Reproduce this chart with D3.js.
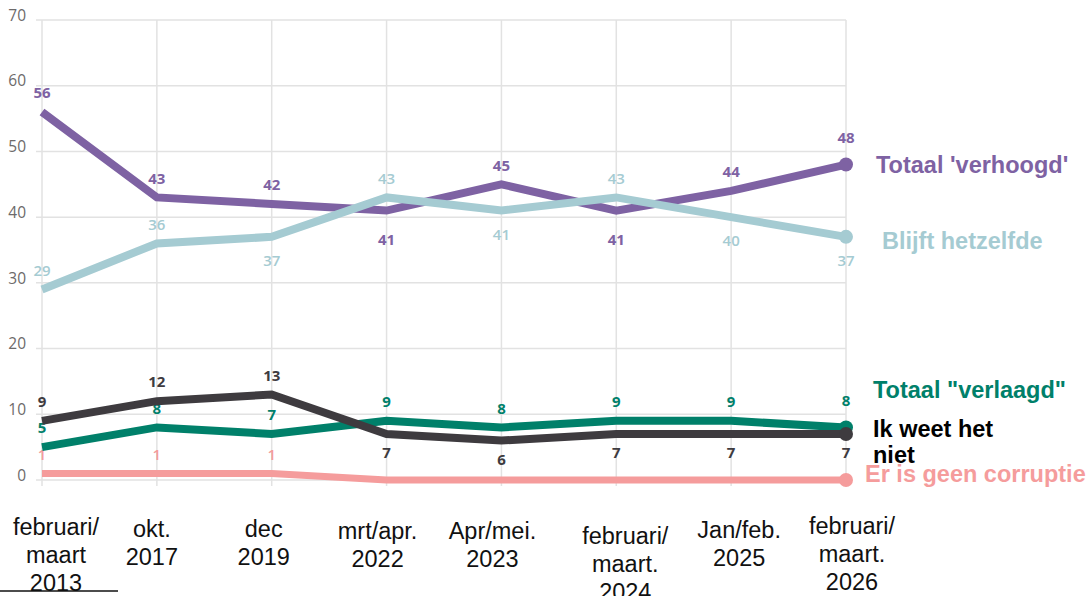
<!DOCTYPE html>
<html>
<head>
<meta charset="utf-8">
<style>
  body { margin: 0; background: #fff; }
  svg { display: block; }
  .ytick text { font-family: "Open Sans", sans-serif; font-size: 15.5px; fill: #6d6a6a; }
  .vlabel { font-family: "Open Sans", sans-serif; font-size: 15px; font-weight: 700; }
  .xlab { font-family: "Liberation Sans", Arial, sans-serif; font-size: 23.5px; fill: #111; }
  .legend { font-family: "Liberation Sans", Arial, sans-serif; font-weight: 700; font-size: 23.5px; }
</style>
</head>
<body>
<div id="chart"></div>
<script src="https://d3js.org/d3.v7.min.js"></script>
<script>
// survey moments
var periods = ["feb/mrt 2013", "okt 2017", "dec 2019", "mrt/apr 2022", "apr/mei 2023", "feb/mrt 2024", "jan/feb 2025", "feb/mrt 2026"];

// x axis texts (one entry per period, split in lines)
var periodLines = [
  ["februari/", "maart", "2013"],
  ["okt.", "2017"],
  ["dec", "2019"],
  ["mrt/apr.", "2022"],
  ["Apr/mei.", "2023"],
  ["februari/", "maart.", "2024"],
  ["Jan/feb.", "2025"],
  ["februari/", "maart.", "2026"]
];

var yTicks = [0, 10, 20, 30, 40, 50, 60, 70];

// series values (percent)
var verhoogd      = [56, 43, 42, 41, 45, 41, 44, 48];
var hetzelfde     = [29, 36, 37, 43, 41, 43, 40, 37];
var verlaagd      = [5, 8, 7, 9, 8, 9, 9, 8];
var weetNiet      = [9, 12, 13, 7, 6, 7, 7, 7];
var geenCorruptie = [1, 1, 1, 0, 0, 0, 0, 0];

// where the value label sits: a = above, b = below, "" = no label
var verhoogdPos  = ["a", "a", "a", "b", "a", "b", "a", "a"];
var hetzelfdePos = ["a", "a", "b", "a", "b", "a", "b", "b"];
var verlaagdPos  = ["a", "a", "a", "a", "a", "a", "a", "a"];
var weetNietPos  = ["a", "a", "a", "b", "b", "b", "b", "b"];
var geenPos      = ["a", "a", "a", "", "", "", "", ""];

var W = 1090, H = 596;
var svg = d3.select("#chart").append("svg")
  .attr("width", W).attr("height", H);

var x = d3.scalePoint().domain(periods).range([42, 846]);
var y = d3.scaleLinear().domain([0, 70]).range([480, 20]);

// grid
var grid = svg.append("g");
grid.selectAll("line.h").data(yTicks).enter().append("line")
  .attr("x1", 36).attr("x2", x(periods[periods.length - 1]))
  .attr("y1", d => y(d)).attr("y2", d => y(d))
  .attr("stroke", "#e2e2e2").attr("stroke-width", 1.5);
grid.selectAll("line.v").data(periods).enter().append("line")
  .attr("x1", d => x(d)).attr("x2", d => x(d))
  .attr("y1", y(70)).attr("y2", y(0) + 6)
  .attr("stroke", "#e2e2e2").attr("stroke-width", 1.5);

var yt = svg.append("g").attr("class", "ytick");
yt.selectAll("text").data(yTicks).enter().append("text")
  .attr("x", 26).attr("y", d => y(d)).attr("dy", "0.05em")
  .attr("text-anchor", "end")
  .text(d => d);

var series = [
  {vals: geenCorruptie, pos: geenPos, color: "#f59c9c", width: 7, below: 20, weight: 600},
  {vals: verlaagd, pos: verlaagdPos, color: "#00806a", width: 8, below: 20, weight: 700},
  {vals: weetNiet, pos: weetNietPos, color: "#3e3b3f", width: 8, below: 19, weight: 700},
  {vals: verhoogd, pos: verhoogdPos, color: "#7e62a3", width: 8, below: 29, weight: 700},
  {vals: hetzelfde, pos: hetzelfdePos, color: "#a5cbd2", width: 8, below: 24, weight: 600}
];

var line = d3.line()
  .x((d, i) => x(periods[i]))
  .y(d => y(d));

series.forEach(function(s) {
  var g = svg.append("g");
  g.append("path")
    .attr("d", line(s.vals))
    .attr("fill", "none")
    .attr("stroke", s.color)
    .attr("stroke-width", s.width)
    .attr("stroke-linejoin", "miter");
  g.append("circle")
    .attr("cx", x(periods[periods.length - 1]))
    .attr("cy", y(s.vals[s.vals.length - 1]))
    .attr("r", 7)
    .attr("fill", s.color);
  g.selectAll("text").data(s.vals).enter()
    .filter((d, i) => s.pos[i] !== "")
    .append("text")
    .attr("class", "vlabel")
    .attr("x", (d, i) => x(periods[i]))
    .attr("y", function(d, i) {
      var off = s.pos[i] === "a" ? -19 : s.below;
      if (i === s.vals.length - 1 && s.pos[i] === "a") off -= 8;
      return y(d) + off;
    })
    .attr("dy", "0.35em")
    .attr("text-anchor", "middle")
    .attr("fill", s.color)
    .style("font-weight", s.weight)
    .text(d => d);
});

// x axis labels (pasted text block, slightly off the ticks)
var xNudge = [14, -5, -8, -9, -9, 9, 8, 6];
var xTop = [535, 537, 537, 539, 539, 544, 538, 534];
var xl = svg.append("g");
periodLines.forEach(function(lines, i) {
  var t = xl.append("text").attr("class", "xlab")
    .attr("text-anchor", "middle");
  lines.forEach(function(l, j) {
    t.append("tspan")
      .attr("x", x(periods[i]) + xNudge[i])
      .attr("y", xTop[i] + j * 28)
      .text(l);
  });
});
xl.append("line")
  .attr("x1", 0).attr("x2", 118).attr("y1", 591).attr("y2", 591)
  .attr("stroke", "#111").attr("stroke-width", 1.5);

// legend texts at the line ends
var legendItems = [
  {lines: ["Totaal 'verhoogd'"], color: "#7e62a3", x: 876, y: 173},
  {lines: ["Blijft hetzelfde"], color: "#a5cbd2", x: 882, y: 249},
  {lines: ["Totaal \"verlaagd\""], color: "#00806a", x: 873, y: 398},
  {lines: ["Ik weet het", "niet"], color: "#000", x: 873, y: 437},
  {lines: ["Er is geen corruptie"], color: "#f59c9c", x: 865, y: 482}
];
legendItems.forEach(function(it) {
  var t = svg.append("text").attr("class", "legend")
    .attr("fill", it.color);
  it.lines.forEach(function(l, j) {
    t.append("tspan").attr("x", it.x).attr("y", it.y + j * 26).text(l);
  });
});
</script>
</body>
</html>
